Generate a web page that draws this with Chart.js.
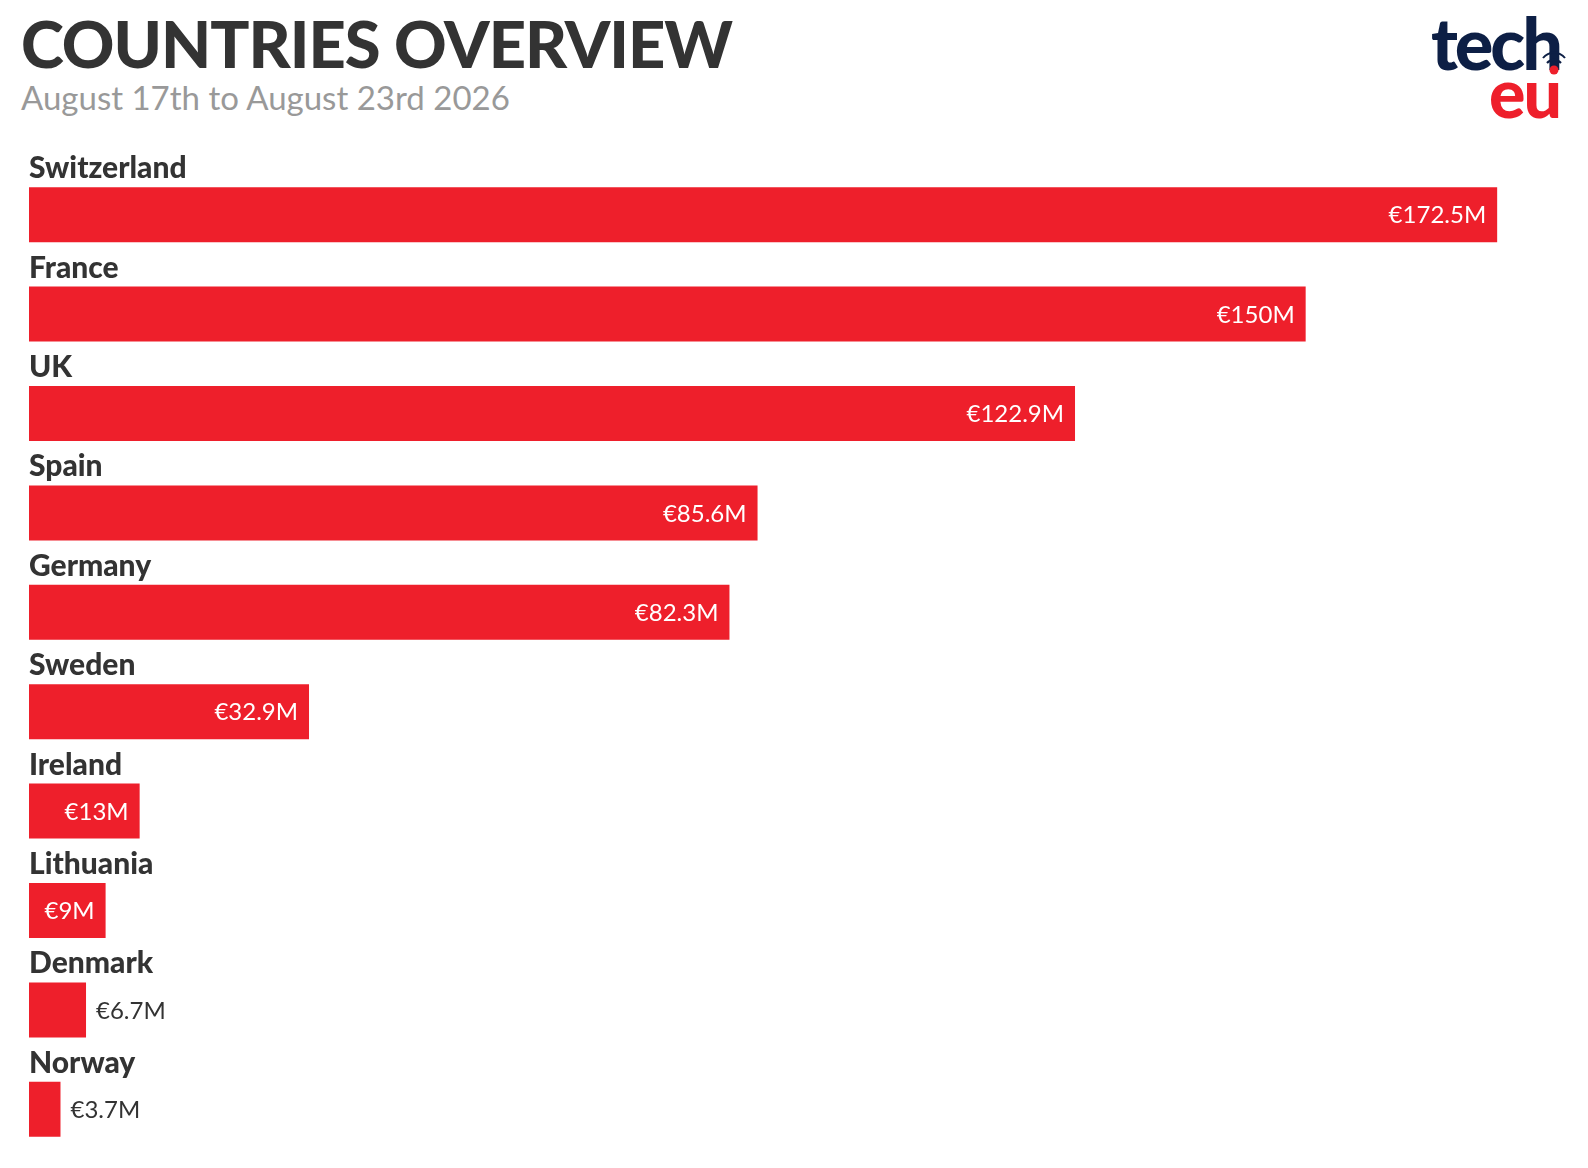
<!DOCTYPE html>
<html>
<head>
<meta charset="utf-8">
<script src="https://cdn.jsdelivr.net/npm/chart.js@4.4.1/dist/chart.umd.min.js"></script>
<style>
  html, body { margin: 0; padding: 0; background: #fff; }
  body { width: 1588px; height: 1168px; position: relative; overflow: hidden; font-family: Lato, sans-serif; }
  #title { position: absolute; left: 21px; top: 4px; font-size: 65px; font-weight: 900; color: #333; letter-spacing: -1px; white-space: nowrap; }
  #subtitle { position: absolute; left: 21px; top: 77px; font-size: 33px; color: #999; white-space: nowrap; }
  #logo { position: absolute; right: 28px; top: 6px; text-align: right; font-weight: 900; line-height: 1; }
  #logo .tech { color: #0d1f45; font-size: 72px; letter-spacing: -3px; display: block; }
  #logo .eu { color: #ee1f2b; font-size: 68px; letter-spacing: -2px; display: block; margin-top: -20px; }
  #signal { position: absolute; left: 1536px; top: 42px; }
  #wrap { position: absolute; left: 0; top: 0; width: 1588px; height: 1168px; }
</style>
</head>
<body>
<div id="title">COUNTRIES OVERVIEW</div>
<div id="subtitle">August 17th to August 23rd 2026</div>
<div id="logo"><span class="tech">tech</span><span class="eu">eu</span></div>
<svg id="signal" width="36" height="40" viewBox="0 0 36 40">
  <circle cx="18" cy="28" r="4.5" fill="#ee1f2b"/>
  <path d="M11 21 A9 9 0 0 1 25 21" fill="none" stroke="#0d1f45" stroke-width="2"/>
  <path d="M7 16 A14 14 0 0 1 29 16" fill="none" stroke="#0d1f45" stroke-width="2"/>
</svg>
<div id="wrap"><canvas id="myChart" width="1588" height="1168"></canvas></div>
<script>
const countries = ['Switzerland', 'France', 'UK', 'Spain', 'Germany', 'Sweden', 'Ireland', 'Lithuania', 'Denmark', 'Norway'];
const amounts = [172.5, 150, 122.9, 85.6, 82.3, 32.9, 13, 9, 6.7, 3.7];
const amountLabels = ['€172.5M', '€150M', '€122.9M', '€85.6M', '€82.3M', '€32.9M', '€13M', '€9M', '€6.7M', '€3.7M'];

// draws the country name over each bar and the amount inside / next to it
const barText = {
  id: 'barText',
  afterDatasetsDraw(chart) {
    const ctx = chart.ctx;
    const meta = chart.getDatasetMeta(0);
    ctx.save();
    meta.data.forEach((bar, i) => {
      const top = bar.y - bar.height / 2;
      ctx.textBaseline = 'alphabetic';
      ctx.textAlign = 'left';
      ctx.fillStyle = '#333';
      ctx.font = '900 30px Lato';
      ctx.fillText(countries[i], bar.base, top - 9);

      ctx.font = '24px Lato';
      ctx.textBaseline = 'middle';
      const w = ctx.measureText(amountLabels[i]).width;
      if (w + 20 < bar.x - bar.base) {
        ctx.fillStyle = '#fff';
        ctx.textAlign = 'right';
        ctx.fillText(amountLabels[i], bar.x - 11, bar.y + 1);
      } else {
        ctx.fillStyle = '#333';
        ctx.fillText(amountLabels[i], bar.x + 10, bar.y + 1);
      }
    });
    ctx.restore();
  }
};

const ctx = document.getElementById('myChart').getContext('2d');
const myChart = new Chart(ctx, {
  type: 'bar',
  data: {
    labels: countries,
    datasets: [
      {
        data: amounts,
        backgroundColor: '#ee1f2b',
        borderWidth: 0,
        barPercentage: 0.553,
        categoryPercentage: 1,
      },
    ],
  },
  options: {
    indexAxis: 'y',
    responsive: false,
    animation: false,
    devicePixelRatio: 1,
    layout: { padding: { left: 29, right: 27, top: 165, bottom: 9 } },
    plugins: { legend: { display: false }, tooltip: { enabled: false } },
    scales: {
      x: { display: false, min: 0, max: 180 },
      y: { display: false },
    },
  },
  plugins: [barText],
});
</script>
</body>
</html>
